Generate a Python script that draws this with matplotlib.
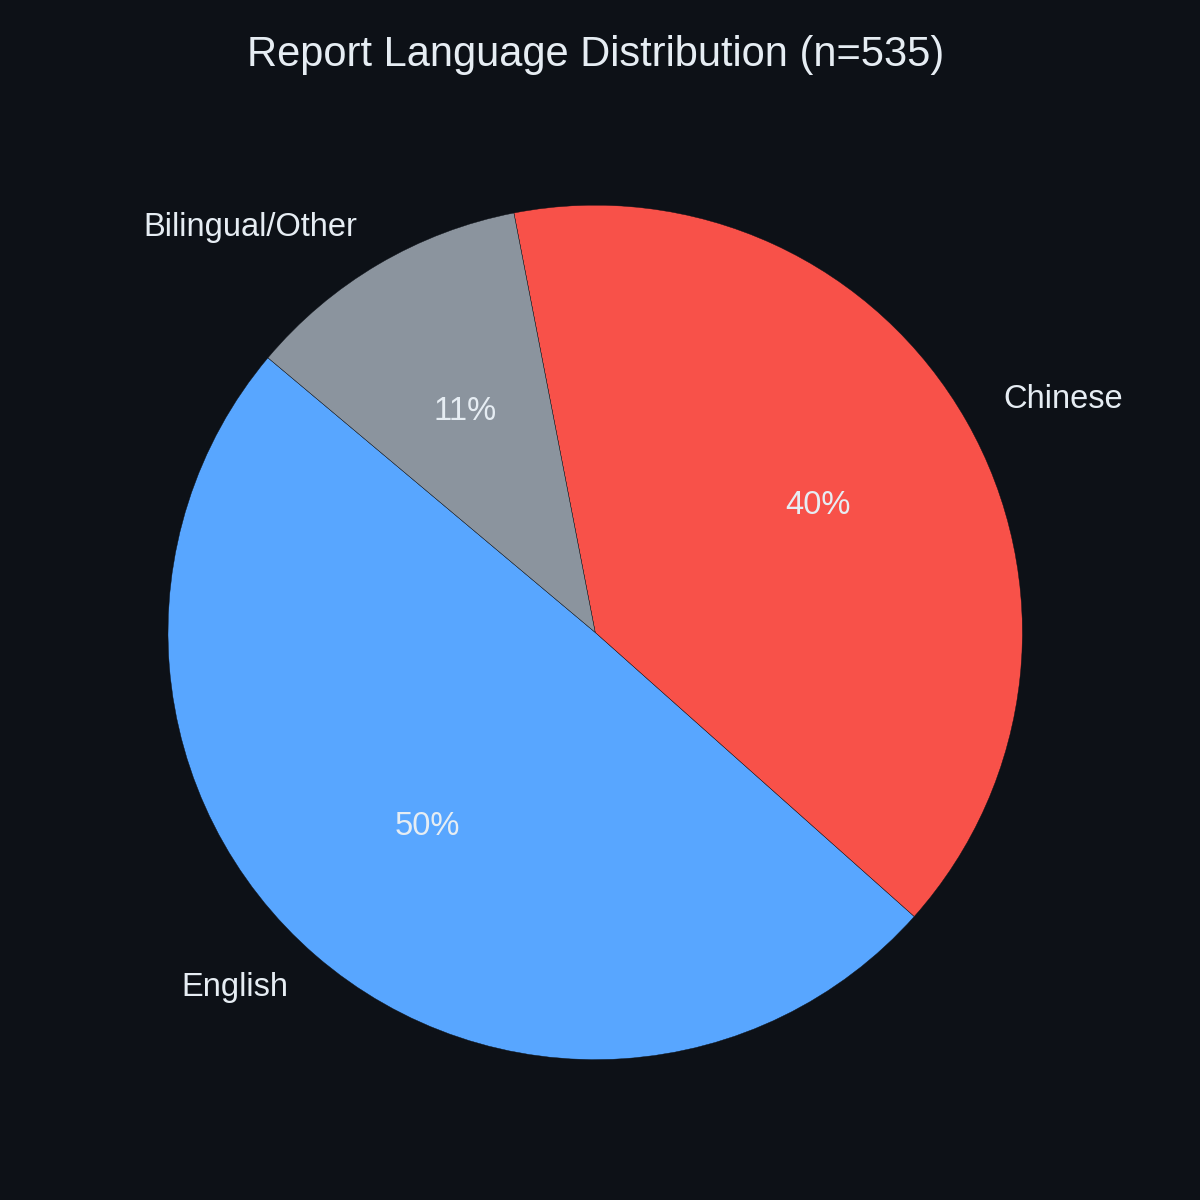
import matplotlib
matplotlib.use("Agg")
import matplotlib.pyplot as plt

# data
languages = ["English", "Chinese", "Bilingual/Other"]
counts = [265, 212, 58]
colors = ["#58a6ff", "#f85149", "#8b949e"]

bg = "#0d1117"
plt.rcParams["font.family"] = ["Liberation Sans", "DejaVu Sans"]

fig, ax = plt.subplots(figsize=(12, 12), dpi=100)
fig.patch.set_facecolor(bg)
ax.set_facecolor(bg)

wedges, texts, autotexts = ax.pie(
    counts,
    labels=languages,
    colors=colors,
    autopct="%1.0f%%",
    startangle=140,
    wedgeprops={"edgecolor": bg, "linewidth": 0.3},
    textprops={"color": "#e6edf3", "fontsize": 23.5},
)
ax.set_aspect("equal")
ax.set_title("Report Language Distribution (n=%d)" % sum(counts),
             color="#e6edf3", fontsize=30, pad=23)

fig.subplots_adjust(left=0.046, right=0.946, top=0.918, bottom=0.028)
fig.savefig("out.png", facecolor=bg)
